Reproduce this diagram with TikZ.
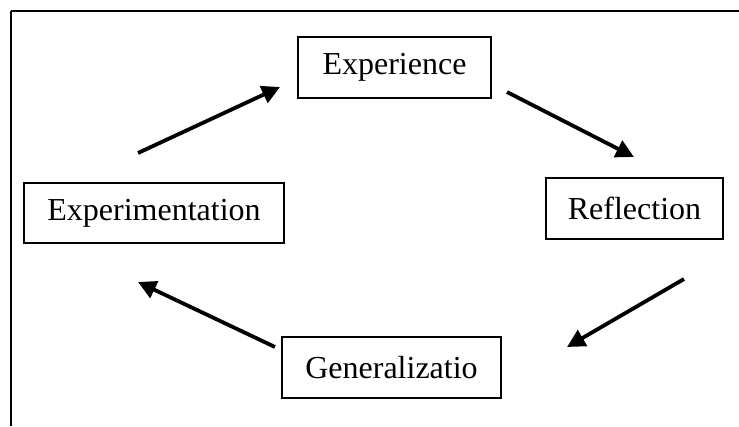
\documentclass[tikz,border=0pt]{standalone}
\usepackage{fontspec}
\setmainfont{Liberation Serif}
\usetikzlibrary{arrows.meta}
\begin{document}
\begin{tikzpicture}[x=1pt,y=-1pt,
  stagebox/.style={draw=black,line width=2.4pt,inner sep=0pt,font=\fontsize{32}{36}\selectfont,anchor=center},
  flow/.style={line width=3.8pt,-{Triangle[length=18pt,width=18pt]}}]
\useasboundingbox (0,0) rectangle (739,426);
\fill[white] (0,0) rectangle (739,426);
% frame
\coordinate (fa) at (10.5,426);
\coordinate (fb) at (10.5,11);
\coordinate (fc) at (739,11);
\draw[line width=2pt] (fa) -- (fb);
\draw[line width=2.6pt] (fb) -- (fc);
% boxes
\node[stagebox,minimum width=193pt,minimum height=61pt] (exp) at (394.5,67.5) {Experience};
\node[stagebox,minimum width=260pt,minimum height=60pt] (expt) at (154,213) {Experimentation};
\node[stagebox,minimum width=177pt,minimum height=61pt] (refl) at (634.5,208.5) {Reflection};
\node[stagebox,minimum width=219pt,minimum height=61pt] (gen) at (391.5,367.5) {Generalizatio};
% arrow ends
\coordinate (a1s) at (138,153);
\coordinate (a1e) at (280,87);
\coordinate (a2s) at (507,92);
\coordinate (a2e) at (634,157);
\coordinate (a3s) at (684,279);
\coordinate (a3e) at (567,347);
\coordinate (a4s) at (275,347);
\coordinate (a4e) at (138,282);
\draw[flow] (a1s) -- (a1e);
\draw[flow] (a2s) -- (a2e);
\draw[flow] (a3s) -- (a3e);
\draw[flow] (a4s) -- (a4e);
\end{tikzpicture}
\end{document}
